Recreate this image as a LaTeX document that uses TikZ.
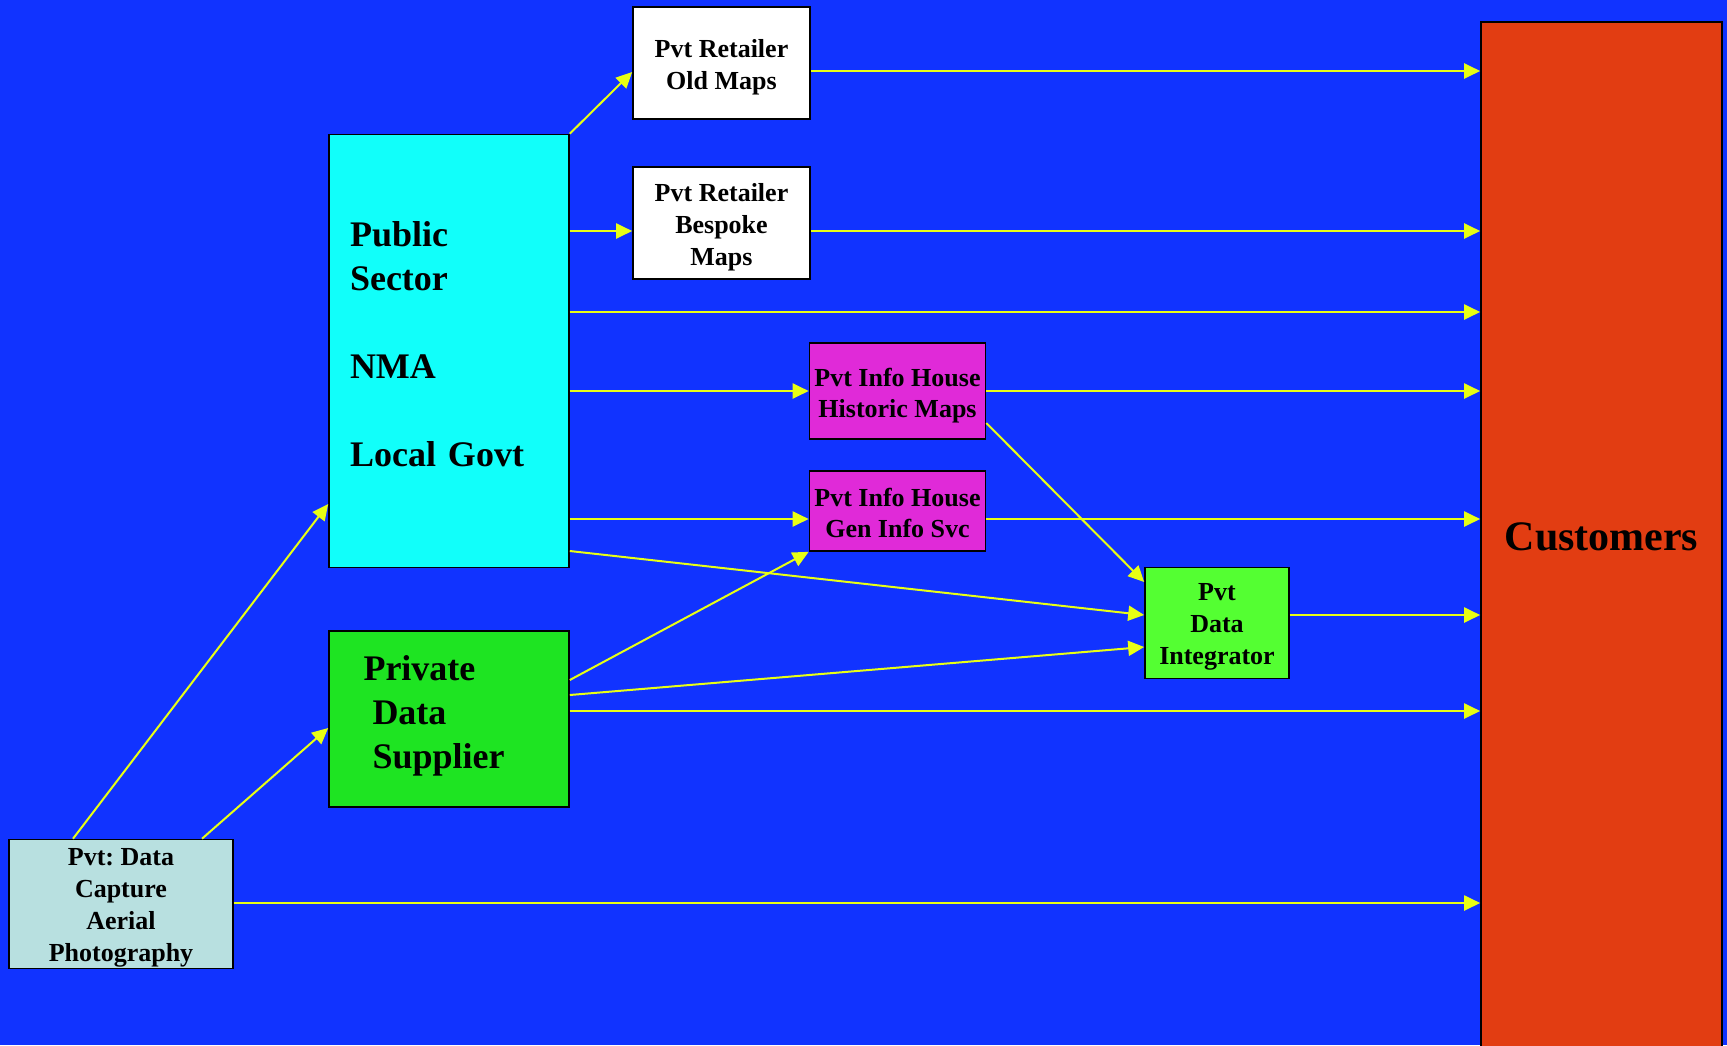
\documentclass[tikz,border=0pt]{standalone}
\usepackage{fontspec}
\setmainfont{Liberation Serif}
\usetikzlibrary{arrows.meta}
\frenchspacing
\definecolor{bgblue}{RGB}{17,51,255}
\definecolor{flowyellow}{RGB}{232,255,20}
\definecolor{pscyan}{RGB}{17,255,250}
\definecolor{pdsgreen}{RGB}{30,228,34}
\definecolor{digreen}{RGB}{84,255,50}
\definecolor{ihmagenta}{RGB}{224,42,216}
\definecolor{capgray}{RGB}{184,224,224}
\definecolor{custred}{RGB}{226,61,18}
\newcommand{\uppad}[1]{\rule{0pt}{#1}}
\newcommand{\downpad}[1]{\rule[-#1]{0pt}{1pt}}
\tikzset{
  box/.style={draw=black, line width=1.6pt, inner sep=0pt, align=center,
    font=\bfseries\fontsize{26}{32}\selectfont},
  bigbox/.style={box, font=\bfseries\fontsize{36}{44}\selectfont},
  flow/.style={draw=flowyellow, line width=2pt,
    -{Triangle[length=16pt,width=15pt]}}
}
\begin{document}
\begin{tikzpicture}[x=1pt,y=-1pt]
\useasboundingbox[fill=bgblue] (0,0) rectangle (1727,1045);

% nodes
\node[box, fill=white, minimum width=177pt, minimum height=112pt] (om) at (721.5,63) {\uppad{27pt}Pvt Retailer\\Old Maps};
\node[box, fill=white, minimum width=177pt, minimum height=112pt] (bm) at (721.5,223) {\uppad{27pt}Pvt Retailer\\Bespoke\\Maps};
\node[bigbox, fill=pscyan, minimum width=240pt, minimum height=433pt,
      text width=198pt, inner xsep=21pt, align=left] (ps) at (449,351)
      {Public\\Sector\\\mbox{}\\NMA\\\mbox{}\\Local Govt\downpad{13pt}};
\node[bigbox, fill=pdsgreen, minimum width=240pt, minimum height=176pt,
      text width=171pt, inner xsep=34.5pt, align=left] (pds) at (449,719)
      {Private\\\hspace*{9pt}Data\\\hspace*{9pt}Supplier\downpad{14pt}};
\node[box, fill=capgray, minimum width=224pt, minimum height=129pt] (cap) at (121,904)
      {\uppad{24pt}Pvt: Data\\Capture\\Aerial\\Photography};
\node[box, fill=ihmagenta, minimum width=176pt, minimum height=96pt,
      font=\bfseries\fontsize{26}{31}\selectfont] (hm) at (897.5,391)
      {\uppad{27pt}Pvt Info House\\Historic Maps};
\node[box, fill=ihmagenta, minimum width=176pt, minimum height=80pt,
      font=\bfseries\fontsize{26}{31}\selectfont] (gi) at (897.5,511)
      {\uppad{22pt}Pvt Info House\\Gen Info Svc};
\node[box, fill=digreen, minimum width=144pt, minimum height=111pt] (di) at (1217,623)
      {\uppad{24pt}Pvt\\Data\\Integrator};
\node[box, fill=custred, minimum width=241pt, minimum height=1030pt,
      font=\bfseries\fontsize{42}{50}\selectfont] (cust) at (1601.5,537) {Customers};

% levels
\coordinate (lOM) at (0,71);
\coordinate (lOMin) at (0,72);
\coordinate (lBM) at (0,231);
\coordinate (lPS) at (0,312);
\coordinate (lHM) at (0,391);
\coordinate (lGI) at (0,519);
\coordinate (lDI) at (0,615);
\coordinate (lPDS) at (0,711);
\coordinate (lCAP) at (0,903);
\coordinate (psA) at (0,551);
\coordinate (hmB) at (0,423);
\coordinate (diB) at (0,582);
\coordinate (pdsC) at (0,680);
\coordinate (pdsD) at (0,695);
\coordinate (diD) at (0,647);
\coordinate (capE) at (73,0);
\coordinate (capF) at (202,0);
\coordinate (psE) at (0,504);
\coordinate (pdsF) at (0,728);

% connectors
\draw[flow] (ps.north east) -- (om.west |- lOMin);
\draw[flow] (ps.east |- lBM) -- (bm.west |- lBM);
\draw[flow] (om.east |- lOM) -- (cust.west |- lOM);
\draw[flow] (bm.east |- lBM) -- (cust.west |- lBM);
\draw[flow] (ps.east |- lPS) -- (cust.west |- lPS);
\draw[flow] (ps.east |- lHM) -- (hm.west |- lHM);
\draw[flow] (hm.east |- lHM) -- (cust.west |- lHM);
\draw[flow] (ps.east |- lGI) -- (gi.west |- lGI);
\draw[flow] (gi.east |- lGI) -- (cust.west |- lGI);
\draw[flow] (ps.east |- psA) -- (di.west |- lDI);
\draw[flow] (hm.east |- hmB) -- (di.west |- diB);
\draw[flow] (pds.east |- pdsC) -- (gi.south west);
\draw[flow] (pds.east |- pdsD) -- (di.west |- diD);
\draw[flow] (pds.east |- lPDS) -- (cust.west |- lPDS);
\draw[flow] (di.east |- lDI) -- (cust.west |- lDI);
\draw[flow] (cap.north -| capE) -- (ps.west |- psE);
\draw[flow] (cap.north -| capF) -- (pds.west |- pdsF);
\draw[flow] (cap.east |- lCAP) -- (cust.west |- lCAP);
\end{tikzpicture}
\end{document}
